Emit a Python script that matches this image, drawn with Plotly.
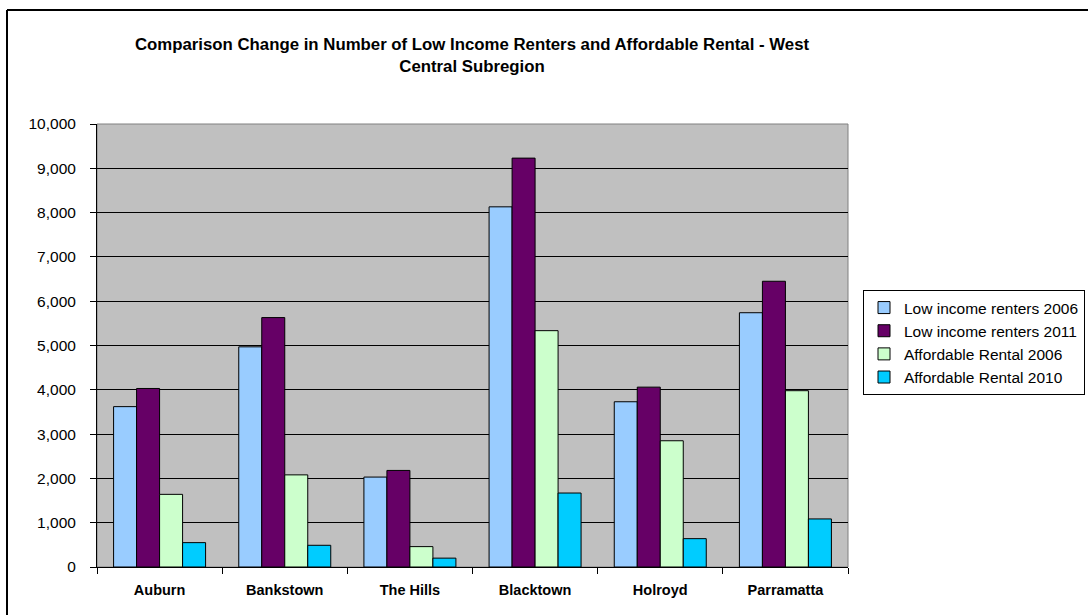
import plotly.graph_objects as go

categories = ["Auburn", "Bankstown", "The Hills", "Blacktown", "Holroyd", "Parramatta"]
low_income_2006 = [3620, 4970, 2030, 8130, 3730, 5740]
low_income_2011 = [4030, 5630, 2180, 9230, 4060, 6450]
affordable_2006 = [1640, 2080, 460, 5335, 2850, 3980]
affordable_2010 = [550, 490, 200, 1670, 640, 1085]

series = [
    ("Low income renters 2006", low_income_2006, "#99CCFF"),
    ("Low income renters 2011", low_income_2011, "#660066"),
    ("Affordable Rental 2006", affordable_2006, "#CCFFCC"),
    ("Affordable Rental 2010", affordable_2010, "#00CCFF"),
]

fig = go.Figure()
for name, vals, col in series:
    fig.add_trace(go.Bar(x=categories, y=vals, name=name, marker=dict(color=col, line=dict(color="black", width=1))))

L, R, T, B = 97, 848, 124, 567
W, H = 1088, 615
pw, ph = R - L, B - T
FONT = "Liberation Sans, Arial"

def px(x):
    return (x - L) / pw

def py(y):
    return (B - y) / ph

fig.update_layout(
    width=W, height=H,
    margin=dict(l=L, r=W - R, t=T, b=H - B, pad=0, autoexpand=False),
    paper_bgcolor="white",
    plot_bgcolor="#C0C0C0",
    barmode="group",
    bargap=0.265,
    bargroupgap=0,
    font=dict(family=FONT, size=15, color="black"),
    title=dict(
        text="<b>Comparison Change in Number of Low Income Renters and Affordable Rental - West<br>Central Subregion</b>",
        x=px(472), xref="paper", xanchor="center",
        y=1 - 50 / H, yref="container", yanchor="top",
        font=dict(size=16.8, family=FONT),
    ),
    legend=dict(
        x=px(863), y=py(290), xanchor="left", yanchor="top",
        bordercolor="black", borderwidth=1, bgcolor="white",
        font=dict(size=15.5, family=FONT), traceorder="normal",
        itemwidth=30,
    ),
    xaxis=dict(
        showgrid=False, ticks="outside", ticklen=6, tickcolor="black",
        tickson="boundaries", showline=True, linecolor="black", linewidth=1,
        tickfont=dict(size=14.5, family=FONT),
        tickprefix="<b>", ticksuffix="</b>",
        ticklabelstandoff=10,
    ),
    yaxis=dict(
        range=[0, 10000], dtick=1000, tickformat=",d",
        showgrid=True, gridcolor="black", gridwidth=1,
        ticks="outside", ticklen=6, tickcolor="black",
        showline=True, linecolor="black", linewidth=1,
        zeroline=False, tickfont=dict(size=15.5, family=FONT),
        ticklabelstandoff=11,
    ),
    shapes=[
        dict(type="rect", xref="paper", yref="paper", x0=0, x1=1, y0=0, y1=1,
             line=dict(color="#808080", width=1), layer="below"),
        dict(type="line", xref="paper", yref="paper", x0=px(7), x1=px(7), y0=py(10), y1=py(615),
             line=dict(color="black", width=2)),
        dict(type="line", xref="paper", yref="paper", x0=px(7), x1=px(1088), y0=py(10), y1=py(10),
             line=dict(color="black", width=2)),
    ],
)

fig.write_html("out.html")
